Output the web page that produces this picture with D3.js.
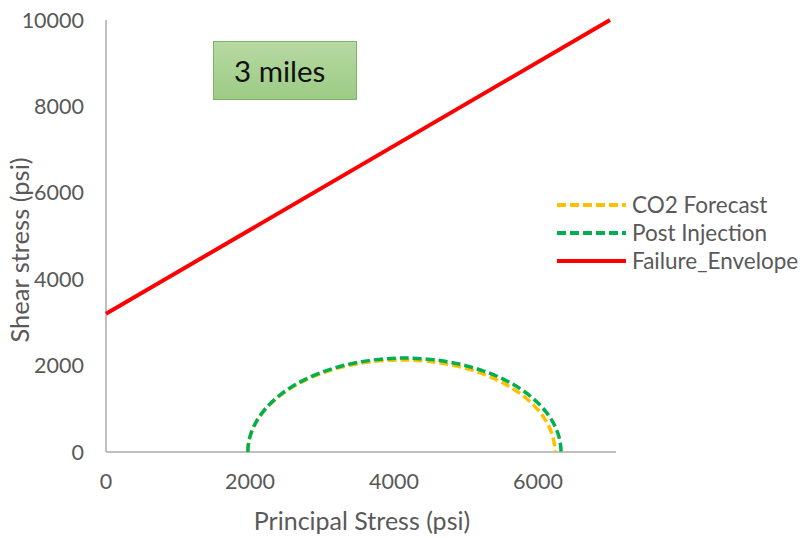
<!DOCTYPE html>
<html><head><meta charset="utf-8">
<script src="https://cdn.jsdelivr.net/npm/d3@7"></script>
<style>body{margin:0;background:#fff}svg{display:block}</style>
</head><body>
<svg id="c" width="807" height="538"></svg>
<script>
// Data
const seriesNames = ["CO2 Forecast", "Post Injection", "Failure_Envelope"];
const seriesColors = ["#FFC000", "#00B050", "#FF0000"];
// Mohr circles: [sigma3, sigma1] (psi)
const co2Forecast = [1970, 6235];
const postInjection = [1970, 6320];
// Failure envelope endpoints [principal, shear]
const failureX = [0, 7000];
const failureY = [3200, 10000];
const xTicks = [0, 2000, 4000, 6000];
const yTicks = [0, 2000, 4000, 6000, 8000, 10000];
const xTitle = "Principal Stress (psi)";
const yTitle = "Shear stress (psi)";
const boxLabel = "3 miles";

const svg = d3.select("#c");
const font = "Lato, 'Open Sans', sans-serif";
const x = d3.scaleLinear().domain([0, 7000]).range([106, 610]);
const y = d3.scaleLinear().domain([0, 10000]).range([452, 20]);

// axes lines
svg.append("line").attr("x1", x(0)).attr("x2", x(0)).attr("y1", y(0)).attr("y2", y(10000))
  .attr("stroke", "#BFBFBF").attr("stroke-width", 2);
svg.append("line").attr("x1", x(0)).attr("x2", x(7000) + 6).attr("y1", y(0)).attr("y2", y(0))
  .attr("stroke", "#BFBFBF").attr("stroke-width", 2);

// tick labels
svg.selectAll(".yt").data(yTicks).enter().append("text")
  .attr("x", 84).attr("y", d => y(d)).attr("dy", "0.35em")
  .attr("text-anchor", "end").attr("font-family", font).attr("font-size", 21.5)
  .attr("fill", "#595959").text(d => d);
svg.selectAll(".xt").data(xTicks).enter().append("text")
  .attr("x", d => x(d)).attr("y", 489)
  .attr("text-anchor", "middle").attr("font-family", font).attr("font-size", 21.5)
  .attr("fill", "#595959").text(d => d);

// axis titles
svg.append("text").attr("x", 362).attr("y", 530).attr("text-anchor", "middle")
  .attr("font-family", font).attr("font-size", 25).attr("fill", "#595959").text(xTitle);
svg.append("text").attr("transform", "translate(29,250) rotate(-90)").attr("text-anchor", "middle")
  .attr("font-family", font).attr("font-size", 25.5).attr("fill", "#595959").text(yTitle);

// Mohr circles via elliptical arc through scales
function arcPath(s) {
  const r = (s[1] - s[0]) / 2;
  const rx = x(r) - x(0), ry = y(0) - y(r);
  return `M${x(s[0])},${y(0)} A${rx},${ry} 0 0 1 ${x(s[1])},${y(0)}`;
}
svg.append("path").attr("d", arcPath(co2Forecast)).attr("fill", "none")
  .attr("stroke", seriesColors[0]).attr("stroke-width", 3.5).attr("stroke-dasharray", "9,4");
svg.append("path").attr("d", arcPath(postInjection)).attr("fill", "none")
  .attr("stroke", seriesColors[1]).attr("stroke-width", 3.5).attr("stroke-dasharray", "9,4");

// failure envelope
const line = d3.line().x(d => x(d[0])).y(d => y(d[1]));
svg.append("path").datum(failureX.map((v, i) => [v, failureY[i]])).attr("d", line)
  .attr("fill", "none").attr("stroke", seriesColors[2]).attr("stroke-width", 4);

// legend
const lg = svg.append("g");
seriesNames.forEach((n, i) => {
  const ly = 205 + i * 28;
  lg.append("line").attr("x1", 557).attr("x2", 626).attr("y1", ly).attr("y2", ly)
    .attr("stroke", seriesColors[i]).attr("stroke-width", 4)
    .attr("stroke-dasharray", i < 2 ? "9,4" : null);
  lg.append("text").attr("x", 632).attr("y", ly).attr("dy", "0.35em")
    .attr("font-family", font).attr("font-size", 22.5).attr("fill", "#595959").text(n);
});

// text box
const defs = svg.append("defs");
const g = defs.append("linearGradient").attr("id", "gb").attr("x1", 0).attr("y1", 0).attr("x2", 0).attr("y2", 1);
g.append("stop").attr("offset", "0%").attr("stop-color", "#B7D9A3");
g.append("stop").attr("offset", "100%").attr("stop-color", "#9CCB84");
svg.append("rect").attr("x", 213.5).attr("y", 41.5).attr("width", 143).attr("height", 58)
  .attr("fill", "url(#gb)").attr("stroke", "#7FB466").attr("stroke-width", 1);
svg.append("text").attr("x", 234).attr("y", 82).attr("font-family", font).attr("font-size", 29.5)
  .attr("fill", "#111").text(boxLabel);
</script>
</body></html>
